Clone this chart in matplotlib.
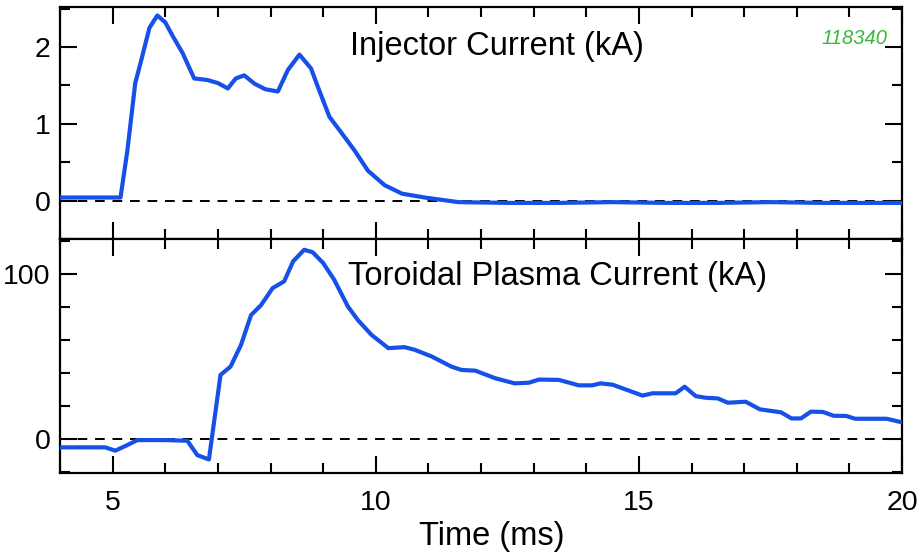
import matplotlib
matplotlib.use("Agg")
import matplotlib.pyplot as plt
from matplotlib.ticker import MultipleLocator

plt.rcParams['font.family'] = ['Liberation Sans', 'DejaVu Sans']

# Injector current (kA)
inj_t = [4.0, 4.5, 5.0, 5.15, 5.28, 5.43, 5.53, 5.7, 5.85, 6.0, 6.16, 6.33, 6.55, 6.8,
         7.0, 7.19, 7.34, 7.5, 7.7, 7.9, 8.14, 8.33, 8.55, 8.77, 8.9, 9.12, 9.34, 9.6,
         9.85, 10.17, 10.5, 10.93, 11.57, 12.5, 13.5, 14.5, 15.5, 16.5, 17.5, 18.5, 19.5, 20.0]
inj_v = [0.04, 0.04, 0.04, 0.04, 0.65, 1.53, 1.79, 2.25, 2.41, 2.32, 2.12, 1.92, 1.59, 1.57,
         1.53, 1.46, 1.59, 1.63, 1.52, 1.45, 1.42, 1.70, 1.90, 1.72, 1.48, 1.09, 0.89, 0.65,
         0.39, 0.20, 0.09, 0.04, -0.02, -0.03, -0.03, -0.02, -0.03, -0.03, -0.02, -0.03, -0.03, -0.03]

# Toroidal plasma current (kA)
tor_t = [4.0, 4.86, 5.05, 5.28, 5.47, 6.0, 6.42, 6.61, 6.83, 7.05, 7.24, 7.44, 7.63, 7.82,
         8.04, 8.26, 8.43, 8.64, 8.8, 9.0, 9.21, 9.47, 9.66, 9.92, 10.24, 10.55, 10.74,
         11.06, 11.44, 11.63, 11.89, 12.27, 12.64, 12.91, 13.1, 13.48, 13.86, 14.11, 14.27,
         14.5, 15.07, 15.26, 15.7, 15.87, 16.08, 16.27, 16.5, 16.69, 17.03, 17.3, 17.7, 17.9,
         18.08, 18.27, 18.5, 18.7, 18.94, 19.11, 19.71, 20.0]
tor_v = [-5, -5, -7, -3.6, -0.6, -0.6, -1, -9.7, -12.3, 38.8, 43.8, 57, 75, 81,
         91.3, 95.4, 107.5, 114.5, 113, 106.5, 96.4, 80.2, 72, 63, 55, 55.6, 54,
         50, 43.8, 41.8, 41.4, 36.8, 33.7, 34.1, 36, 35.8, 32.5, 32.5, 33.7,
         32.9, 26.3, 27.7, 27.7, 31.7, 26, 25, 24.6, 22, 22.6, 18, 16.2, 12.5,
         12.5, 16.6, 16.4, 14.1, 14, 12.3, 12.3, 10.1]

xticks = [5, 10, 15, 20]
inj_yticks = [0, 1, 2]
tor_yticks = [0, 100]

W, H = 919, 557
fig = plt.figure(figsize=(W / 100, H / 100), dpi=100)
L, R = 60 / W, 902 / W
ax1 = fig.add_axes([L, 1 - 239 / H, R - L, 232 / H])
ax2 = fig.add_axes([L, 1 - 473 / H, R - L, 234 / H])

blue = '#1650e8'
ax1.plot(inj_t, inj_v, color=blue, lw=3.0, solid_joinstyle='round', zorder=3)
ax2.plot(tor_t, tor_v, color=blue, lw=3.0, solid_joinstyle='round', zorder=3)

for ax in (ax1, ax2):
    ax.axhline(0, color='black', lw=1.4, ls=(0, (5, 4)), zorder=2)
    ax.set_xlim(4, 20)
    ax.set_xticks(xticks)
    ax.xaxis.set_minor_locator(MultipleLocator(1))
    ax.tick_params(which='both', direction='in', top=True, right=True, width=1.5,
                   labelsize=20.5)
    ax.tick_params(axis='y', pad=7)
    ax.tick_params(axis='x', pad=12)
    ax.tick_params(which='major', length=12)
    ax.tick_params(which='minor', length=7)
    for s in ax.spines.values():
        s.set_linewidth(1.6)

ax1.set_ylim(-0.5, 2.52)
ax1.set_yticks(inj_yticks)
ax1.yaxis.set_minor_locator(MultipleLocator(0.5))
ax1.tick_params(labelbottom=False)

ax2.set_ylim(-20.5, 121)
ax2.set_yticks(tor_yticks)
ax2.yaxis.set_minor_locator(MultipleLocator(20))
ax2.set_xlabel('Time (ms)', fontsize=23.5)
ax2.xaxis.set_label_coords((492 - 60) / 842, -(552 - 473) / 234)
ax2.xaxis.label.set_va('bottom')

ax1.text(0.344, 0.793, 'Injector Current (kA)', transform=ax1.transAxes,
         fontsize=23.5, ha='left', va='baseline')
ax2.text(0.342, 0.803, 'Toroidal Plasma Current (kA)', transform=ax2.transAxes,
         fontsize=23.5, ha='left', va='baseline')
ax1.text(0.983, 0.84, '118340', transform=ax1.transAxes, fontsize=14.5,
         style='italic', color='#3cb83c', ha='right', va='baseline')

fig.savefig('out.png', dpi=100)
